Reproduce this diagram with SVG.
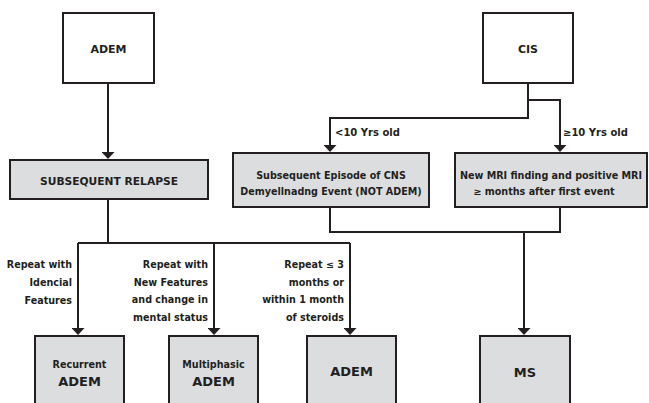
<svg xmlns="http://www.w3.org/2000/svg" width="649" height="403" viewBox="0 0 649 403">
<defs>
<style>
text{font-family:"DejaVu Sans","Liberation Sans",sans-serif;font-weight:bold;fill:#231f20}
.c{text-anchor:middle}
.r{text-anchor:end}
.s10{font-size:10px}
.s95{font-size:9.6px}
.s11{font-size:11px}
.s107{font-size:10.7px}
.s13{font-size:13px}
.w{fill:#ffffff;stroke:#231f20;stroke-width:2}
.g{fill:#dcdddf;stroke:#231f20;stroke-width:2}
.ln{fill:none;stroke:#231f20;stroke-width:2}
</style>
<marker id="ah" viewBox="0 0 7 13" refX="4" refY="6.5" markerWidth="7" markerHeight="13" markerUnits="userSpaceOnUse" orient="auto">
<path d="M0,0 L7,6.5 L0,13 z" fill="#231f20"/>
</marker>
</defs>
<rect width="649" height="403" fill="#ffffff"/>
<g id="connectors">
<path class="ln" d="M108,83 V156" marker-end="url(#ah)"/>
<path class="ln" d="M528,83 V118 H330 V149" marker-end="url(#ah)"/>
<path class="ln" d="M528,100 H560 V149" marker-end="url(#ah)"/>
<path class="ln" d="M108,199 V243"/>
<path class="ln" d="M78,243 H350"/>
<path class="ln" d="M78,243 V332" marker-end="url(#ah)"/>
<path class="ln" d="M214,243 V332" marker-end="url(#ah)"/>
<path class="ln" d="M350,243 V332" marker-end="url(#ah)"/>
<path class="ln" d="M330,207 V232 H560 V207"/>
<path class="ln" d="M524,232 V332" marker-end="url(#ah)"/>
<text class="s10" x="335" y="136">&lt;10 Yrs old</text>
<text class="s10" x="563" y="136">≥10 Yrs old</text>
<text class="s95 r" x="72" y="268">Repeat with</text>
<text class="s95 r" x="72" y="286">Idencial</text>
<text class="s95 r" x="72" y="304">Features</text>
<text class="s95 r" x="208" y="268">Repeat with</text>
<text class="s95 r" x="208" y="285.5">New Features</text>
<text class="s95 r" x="208" y="303">and change in</text>
<text class="s95 r" x="208" y="320.5">mental status</text>
<text class="s95 r" x="344" y="268">Repeat ≤ 3</text>
<text class="s95 r" x="344" y="285.5">months or</text>
<text class="s95 r" x="344" y="303">within 1 month</text>
<text class="s95 r" x="344" y="320.5">of steroids</text>
</g>
<g id="adem-top">
<rect class="w" x="63" y="13" width="91" height="70"/>
<text class="s11 c" x="108.5" y="53">ADEM</text>
</g>
<g id="cis">
<rect class="w" x="483" y="13" width="90" height="70"/>
<text class="s11 c" x="528" y="53">CIS</text>
</g>
<g id="relapse">
<rect class="g" x="10" y="160" width="198" height="39"/>
<text class="s107 c" x="109" y="185">SUBSEQUENT RELAPSE</text>
</g>
<g id="not-adem">
<rect class="g" x="233" y="153" width="196" height="54"/>
<text class="s95 c" x="331" y="179">Subsequent Episode of CNS</text>
<text class="s95 c" x="331" y="195">Demyellnadng Event (NOT ADEM)</text>
</g>
<g id="new-mri">
<rect class="g" x="455" y="153" width="192" height="54"/>
<text class="s95 c" x="551" y="179">New MRI finding and positive MRI</text>
<text class="s95 c" x="544" y="195">≥ months after first event</text>
</g>
<g id="recurrent">
<rect class="g" x="35" y="336" width="89" height="80"/>
<text class="s95 c" x="79.5" y="368">Recurrent</text>
<text class="s13 c" x="79.5" y="386">ADEM</text>
</g>
<g id="multiphasic">
<rect class="g" x="169" y="336" width="89" height="80"/>
<text class="s95 c" x="213.5" y="368">Multiphasic</text>
<text class="s13 c" x="213.5" y="386">ADEM</text>
</g>
<g id="adem-bottom">
<rect class="g" x="307" y="336" width="89" height="80"/>
<text class="s13 c" x="351.5" y="376">ADEM</text>
</g>
<g id="ms">
<rect class="g" x="480" y="336" width="90" height="80"/>
<text class="s13 c" x="525" y="377">MS</text>
</g>
</svg>
